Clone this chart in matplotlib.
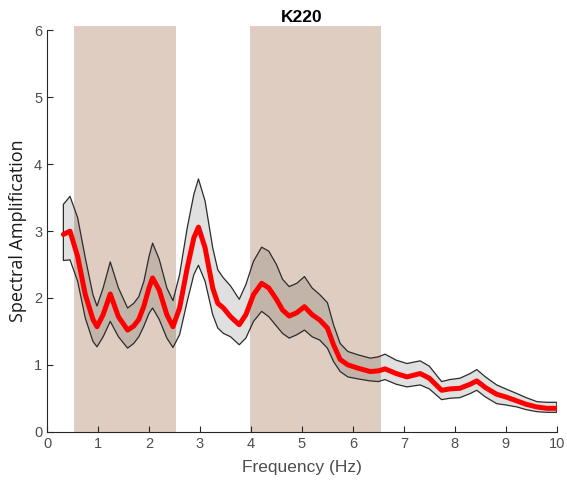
import numpy as np
import matplotlib
matplotlib.use('Agg')
import matplotlib.pyplot as plt

# frequency points (Hz)
freq = [0.32, 0.45, 0.6, 0.75, 0.9, 0.98, 1.1, 1.24, 1.4, 1.58, 1.7, 1.8, 1.9, 2.0,
        2.07, 2.2, 2.35, 2.47, 2.6, 2.75, 2.88, 2.97, 3.1, 3.25, 3.35, 3.46, 3.6,
        3.77, 3.9, 4.05, 4.21, 4.35, 4.5, 4.62, 4.75, 4.9, 5.05, 5.2, 5.35, 5.5,
        5.62, 5.75, 5.9, 6.1, 6.34, 6.5, 6.63, 6.85, 7.06, 7.32, 7.5, 7.74, 7.9,
        8.1, 8.3, 8.43, 8.6, 8.82, 9.0, 9.22, 9.4, 9.61, 9.8, 10.0]

amp_mean = [2.95, 3.00, 2.62, 2.05, 1.68, 1.57, 1.75, 2.06, 1.72, 1.52, 1.58, 1.68,
            1.88, 2.15, 2.30, 2.12, 1.75, 1.57, 1.85, 2.45, 2.90, 3.06, 2.75, 2.15,
            1.92, 1.85, 1.72, 1.60, 1.75, 2.05, 2.22, 2.15, 1.98, 1.82, 1.73, 1.78,
            1.87, 1.75, 1.67, 1.55, 1.30, 1.08, 1.00, 0.95, 0.90, 0.91, 0.94, 0.87,
            0.82, 0.87, 0.80, 0.62, 0.64, 0.65, 0.71, 0.76, 0.66, 0.56, 0.52, 0.46,
            0.41, 0.37, 0.35, 0.35]

amp_upper = [3.40, 3.52, 3.20, 2.60, 2.05, 1.88, 2.15, 2.54, 2.15, 1.85, 1.92, 2.02,
             2.25, 2.62, 2.82, 2.58, 2.15, 1.96, 2.35, 3.05, 3.55, 3.78, 3.45, 2.75,
             2.42, 2.30, 2.18, 1.98, 2.20, 2.55, 2.76, 2.70, 2.50, 2.28, 2.17, 2.22,
             2.32, 2.15, 2.05, 1.93, 1.60, 1.32, 1.20, 1.15, 1.10, 1.12, 1.16, 1.07,
             1.02, 1.06, 0.98, 0.75, 0.78, 0.80, 0.87, 0.93, 0.82, 0.70, 0.64, 0.57,
             0.51, 0.45, 0.44, 0.44]

amp_lower = [2.56, 2.57, 2.25, 1.70, 1.35, 1.27, 1.42, 1.65, 1.42, 1.25, 1.32, 1.42,
             1.58, 1.77, 1.85, 1.68, 1.40, 1.26, 1.45, 1.95, 2.35, 2.49, 2.25, 1.75,
             1.55, 1.47, 1.42, 1.30, 1.40, 1.65, 1.80, 1.72, 1.58, 1.47, 1.40, 1.45,
             1.52, 1.42, 1.37, 1.25, 1.05, 0.90, 0.82, 0.79, 0.76, 0.75, 0.78, 0.71,
             0.67, 0.70, 0.64, 0.48, 0.50, 0.51, 0.57, 0.62, 0.52, 0.42, 0.40, 0.37,
             0.33, 0.30, 0.29, 0.29]

# highlighted frequency bands (Hz)
bands = [(0.53, 2.53), (3.98, 6.55)]

fig = plt.figure(figsize=(5.67, 4.84), dpi=100)
ax = fig.add_axes([0.083, 0.108, 0.899, 0.829])

for lo, hi in bands:
    ax.axvspan(lo, hi, ymin=0, ymax=1.012, color='#dfcdc1', lw=0, zorder=0, clip_on=False)

# band polygon: upper then lower reversed
poly_x = np.concatenate([freq, freq[::-1]])
poly_y = np.concatenate([amp_upper, amp_lower[::-1]])
ax.fill(poly_x, poly_y, facecolor=(0, 0, 0, 0.12), edgecolor='#2b2b2b', lw=0.9,
        joinstyle='round', zorder=2)
ax.plot(freq, amp_mean, color='#ff0000', lw=3.6, solid_capstyle='round',
        solid_joinstyle='round', zorder=3)

ax.set_xlim(0, 10)
ax.set_ylim(0, 6)
ax.set_xticks(range(0, 11))
ax.set_yticks(range(0, 7))
for s in ['top', 'right']:
    ax.spines[s].set_visible(False)
for s in ['left', 'bottom']:
    ax.spines[s].set_color('#262626')
    ax.spines[s].set_linewidth(0.8)
ax.tick_params(direction='in', length=4, width=0.8, color='#262626',
               labelcolor='#4d4d4d', labelsize=10.5)
for lab in ax.get_xticklabels() + ax.get_yticklabels():
    lab.set_family('Liberation Sans')

ax.set_xlabel('Frequency (Hz)', fontsize=12.5, color='#4d4d4d', family='Liberation Sans', labelpad=7)
ax.set_ylabel('Spectral Amplification', fontsize=13, color='#1a1a1a', family='Open Sans', labelpad=5)
ax.set_title('K220', fontsize=12.5, fontweight='bold', family='Liberation Sans', pad=6)

fig.savefig('out.png', dpi=100)
